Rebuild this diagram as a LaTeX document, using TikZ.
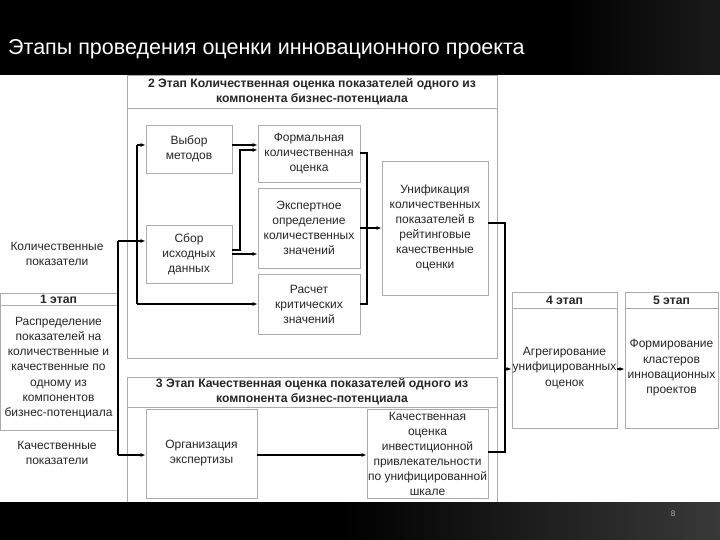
\documentclass[tikz,border=0pt]{standalone}
\usepackage{fontspec}
\setmainfont{Liberation Sans}
\usetikzlibrary{arrows.meta}
\begin{document}
\begin{tikzpicture}[x=1pt,y=-1pt,
  box/.style={draw=gray!65,line width=0.8pt,fill=white,inner sep=1pt,align=center,text=black!85,font=\fontsize{12}{15}\selectfont},
  frame/.style={draw=gray!65,line width=0.9pt},
  hdr/.style={font=\bfseries\fontsize{12.2}{15}\selectfont,align=center,inner sep=0pt,text=black!85},
  lbl/.style={font=\fontsize{12}{15.3}\selectfont,align=center,inner sep=0pt,text=black!85},
  conn/.style={draw=black,line width=1.1pt},
  arr/.style={conn,-{Latex[length=5pt,width=4pt]}}
]
\useasboundingbox (0,0) rectangle (720,540);
\fill[white] (0,0) rectangle (720,540);
% header
\fill[black] (0,0) rectangle (720,75);
\shade[left color=black,right color=gray!35!black,opacity=0.6] (560,0) rectangle (720,75);
\node[anchor=base west,text=white,font=\fontsize{21.5}{24}\selectfont,inner sep=0pt] (title) at (8,55) {Этапы проведения оценки инновационного проекта};

% stage 2 outer
\node[frame,minimum width=370pt,minimum height=283pt,inner sep=0pt] (s2) at (312,216.5) {};
\draw[frame] (127,108) -- (497,108);
\node[hdr] (s2h) at (312,91.5) {2 Этап Количественная оценка показателей одного из\\компонента бизнес-потенциала};

% stage 3 outer
\draw[frame] (127,510) -- (127,377) -- (497,377) -- (497,510);
\draw[frame] (127,407) -- (497,407);
\coordinate (s3) at (312,377);
\node[hdr] (s3h) at (312,392) {3 Этап Качественная оценка показателей одного из\\компонента бизнес-потенциала};

% inner boxes stage 2
\node[box,minimum width=86pt,minimum height=48pt] (vybor) at (189,149) {Выбор\\методов};
\node[box,minimum width=102pt,minimum height=57pt] (formal) at (309,153.5) {Формальная\\количественная\\оценка};
\node[box,minimum width=102pt,minimum height=80pt] (expert) at (309,228) {Экспертное\\определение\\количественных\\значений};
\node[box,minimum width=102pt,minimum height=60pt] (raschet) at (309,304) {Расчет\\критических\\значений};
\node[box,minimum width=106pt,minimum height=134pt] (unif) at (435,228) {Унификация\\количественных\\показателей в\\рейтинговые\\качественные\\оценки};
\node[box,minimum width=86pt,minimum height=58pt] (sbor) at (189,254) {Сбор\\исходных\\данных};

% stage 3 inner boxes
\node[box,minimum width=111pt,minimum height=89pt] (org) at (201.5,453.5) {Организация\\экспертизы};
\node[box,minimum width=121pt,minimum height=89pt] (kach) at (427.5,453.5) {Качественная\\оценка\\инвестиционной\\привлекательности\\по унифицированной\\шкале};

% stage 1
\node[box,minimum width=117pt,minimum height=137pt] (s1) at (58.5,361.5) {};
\draw[frame] (0,305) -- (117,305);
\node[hdr] (s1h) at (58.5,299) {1 этап};
\node[lbl,font=\fontsize{12}{15.3}\selectfont] (s1t) at (58.5,368) {Распределение\\показателей на\\количественные и\\качественные по\\одному из\\компонентов\\бизнес-потенциала};

% stage 4, 5
\node[box,minimum width=105pt,minimum height=136pt] (s4) at (564.5,360) {};
\draw[frame] (512,308) -- (617,308);
\node[hdr] (s4h) at (564.5,300) {4 этап};
\node[lbl] (s4t) at (564.5,368) {Агрегирование\\унифицированных\\оценок};
\node[box,minimum width=93pt,minimum height=136pt] (s5) at (671.5,360) {};
\draw[frame] (625,308) -- (718,308);
\node[hdr] (s5h) at (671.5,300) {5 этап};
\node[lbl] (s5t) at (671.5,368) {Формирование\\кластеров\\инновационных\\проектов};

% side labels
\node[lbl] (qnt) at (57,254) {Количественные\\показатели};
\node[lbl] (qlt) at (57,453) {Качественные\\показатели};

% connectors
\coordinate (bt) at (118,241);
\coordinate (bb) at (118,455);
\coordinate (bm) at (118,368);
\draw[conn] (bt) -- (bb);
\draw[conn] (s1.east |- bm) -- (bm);
\draw[arr] (bt) -- (sbor.west |- bt);
\coordinate (lt) at (137,145);
\coordinate (lb) at (137,304);
\draw[conn] (lt) -- (lb);
\draw[arr] (lt) -- (vybor.west |- lt);
\draw[arr] (lb) -- (raschet.west |- lb);
\draw[arr] (vybor.east |- 0,145) -- (formal.west |- 0,145);
\coordinate (sv1) at (240,250);
\coordinate (sv2) at (240,150);
\draw[arr] (sbor.east |- sv1) -- (sv1) -- (sv2) -- (formal.west |- sv2);
\draw[arr] (sbor.east |- 0,254) -- (expert.west |- 0,254);
\coordinate (r1) at (367,153);
\coordinate (r2) at (367,304);
\coordinate (r3) at (367,228);
\draw[conn] (formal.east |- r1) -- (r1) -- (r2) -- (raschet.east |- r2);
\draw[conn] (expert.east |- r3) -- (r3);
\draw[arr] (r3) -- (unif.west |- r3);
\coordinate (u1) at (505,223);
\coordinate (u2) at (505,452);
\coordinate (u3) at (505,369);
\draw[conn] (unif.east |- u1) -- (u1) -- (u2) -- (kach.east |- u2);
\draw[arr] (u3) -- (s4.west |- u3);
\draw[arr] (s4.east |- u3) -- (s5.west |- u3);
\draw[arr] (bb) -- (org.west |- bb);
\draw[arr] (org.east |- bb) -- (kach.west |- bb);

% footer
\fill[black] (0,502) rectangle (720,540);
\shade[left color=black,right color=gray!45!black] (340,502) rectangle (720,540);
\node[text=gray!60,font=\fontsize{8}{9}\selectfont,inner sep=0pt] (pg) at (673,514) {8};
\end{tikzpicture}
\end{document}
